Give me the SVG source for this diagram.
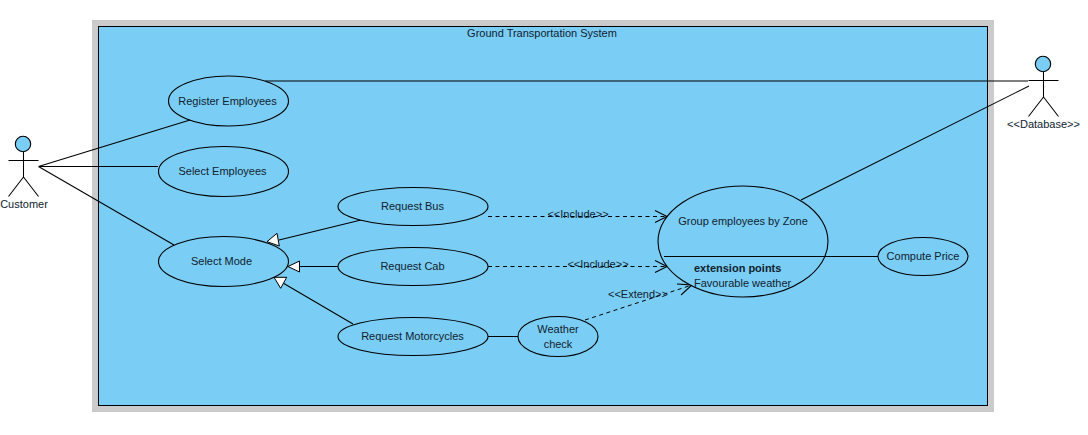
<svg xmlns="http://www.w3.org/2000/svg" width="1088" height="435" viewBox="0 0 1088 435">
<style>
text{font-family:"Liberation Sans",Arial,sans-serif;font-size:11px;fill:#10222f;text-anchor:middle}
.uc{fill:#7acdf5;stroke:#000;stroke-width:1.1}
.ln{fill:none;stroke:#000;stroke-width:1.05}
.ds{fill:none;stroke:#000;stroke-width:1;stroke-dasharray:4 3.500}
.tri{fill:#fff;stroke:#000;stroke-width:1}
</style>
<rect width="1088" height="435" fill="#fff"/>
<g id="system">
<rect x="92" y="20" width="902" height="392" fill="#cbcbcb"/>
<rect x="98.500" y="26.500" width="889" height="379" fill="#7acdf5" stroke="#000" stroke-width="1"/>
<text x="542" y="37">Ground Transportation System</text>
</g>
<g id="connectors">
<path class="ln" d="M38.500 166.500L190 120M38.500 166.500H158M38.500 166.500L174 245"/>
<path class="ln" d="M265 81H1028M1029 86L801 200M488 336.500H518"/>
<path class="ln" d="M361 220L279 240M338 266.500H299.500M353 324L283 283"/>
<path class="tri" d="M267 241.700L277 233.300L279.300 246Z"/>
<path class="tri" d="M288 266.500L299.500 261V272Z"/>
<path class="tri" d="M274 277.300H286.700L280.700 288.300Z"/>
<path class="ds" d="M488 216.500H666M488 266.500H666M585 320L692 285"/>
<path class="ln" d="M655 210.500L667 216.500L655 222.500M655 260.500L667 266.500L655 272.500M677 284L692 285L681 295"/>
<text x="578" y="218">&lt;&lt;Include&gt;&gt;</text>
<text x="598" y="268">&lt;&lt;Include&gt;&gt;</text>
<text x="638" y="298">&lt;&lt;Extend&gt;&gt;</text>
</g>
<g id="customer">
<circle class="uc" cx="23" cy="144" r="7.700"/>
<path class="ln" d="M23.500 152V177M8.500 160.500H38.500M23.500 177L8.500 196.500M23.500 177L38.500 196.500"/>
<text x="24" y="208">Customer</text>
</g>
<g id="database">
<circle class="uc" cx="1043" cy="64" r="7.700"/>
<path class="ln" d="M1043.500 72V97M1028.500 80.500H1058.500M1043.500 97L1028.500 116.500M1043.500 97L1058.500 116.500"/>
<text x="1043.500" y="128">&lt;&lt;Database&gt;&gt;</text>
</g>
<g id="register-employees">
<ellipse class="uc" cx="228.500" cy="101" rx="60" ry="25"/>
<text x="227.500" y="105">Register Employees</text>
</g>
<g id="select-employees">
<ellipse class="uc" cx="223.500" cy="171.500" rx="65" ry="25"/>
<text x="222.500" y="175">Select Employees</text>
</g>
<g id="select-mode">
<ellipse class="uc" cx="223.500" cy="261.500" rx="65" ry="25"/>
<text x="221.500" y="265">Select Mode</text>
</g>
<g id="request-bus">
<ellipse class="uc" cx="413" cy="206.500" rx="75" ry="19"/>
<text x="412.500" y="210">Request Bus</text>
</g>
<g id="request-cab">
<ellipse class="uc" cx="413" cy="266.500" rx="75" ry="19"/>
<text x="412.500" y="270">Request Cab</text>
</g>
<g id="request-motorcycles">
<ellipse class="uc" cx="413" cy="336.500" rx="75" ry="19"/>
<text x="412.500" y="340">Request Motorcycles</text>
</g>
<g id="weather-check">
<ellipse class="uc" cx="558" cy="336.500" rx="40" ry="20"/>
<text x="558" y="333">Weather</text>
<text x="558" y="348">check</text>
</g>
<g id="group-employees">
<ellipse class="uc" cx="743" cy="241.500" rx="85" ry="55.500"/>
<path class="ln" d="M664 256.500H878"/>
<text x="743" y="225">Group employees by Zone</text>
<text x="694" y="272" style="font-weight:bold;text-anchor:start">extension points</text>
<text x="694" y="287" style="text-anchor:start">Favourable weather</text>
</g>
<g id="compute-price">
<ellipse class="uc" cx="923" cy="256.500" rx="45" ry="19"/>
<text x="923" y="260">Compute Price</text>
</g>
</svg>
